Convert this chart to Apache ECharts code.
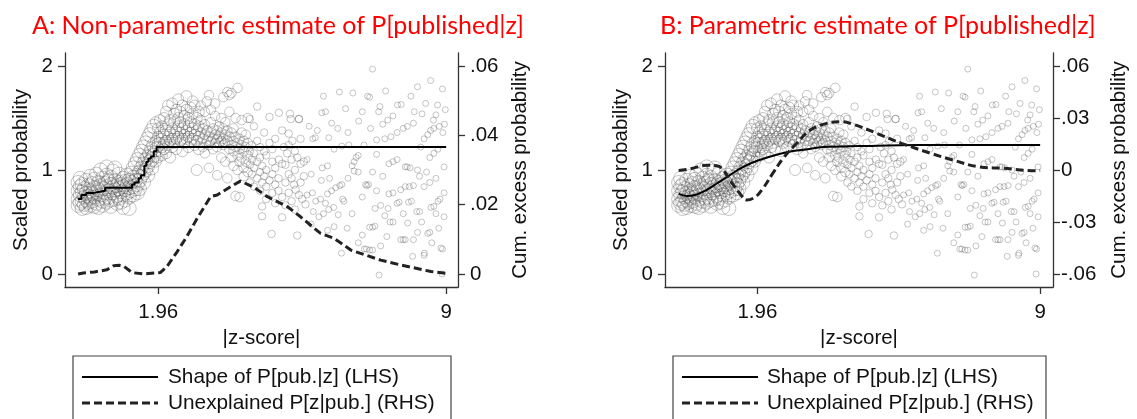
<!DOCTYPE html>
<html><head><meta charset="utf-8">
<script src="https://cdn.jsdelivr.net/npm/echarts@6/dist/echarts.min.js"></script>
<style>html,body{margin:0;padding:0;background:#fff}#c{width:1137px;height:419px}</style>
</head><body><div id="c"></div>
<script>
// ---- text / ticks ----
const titles = ['A: Non-parametric estimate of P[published|z]', 'B: Parametric estimate of P[published|z]'];
const seriesNames = ['Shape of P[pub.|z] (LHS)', 'Unexplained P[z|pub.] (RHS)'];
const xTickValues = [1.96, 9];
const xTickLabels = ['1.96', '9'];
const leftTicks = [0, 1, 2];
const leftTickLabels = ['0', '1', '2'];
const rightTicksA = [0, 0.02, 0.04, 0.06];
const rightTickLabelsA = ['0', '.02', '.04', '.06'];
const rightTicksB = [-0.06, -0.03, 0, 0.03, 0.06];
const rightTickLabelsB = ['-.06', '-.03', '0', '.03', '.06'];

// ---- panel A: step estimate (LHS) ----
const stepAz = [0.00, 0.08, 0.20, 0.38, 0.52, 0.66, 1.32, 1.38, 1.48, 1.54, 1.62, 1.67, 1.72, 1.78, 1.85, 1.92, 9.00];
const stepAy = [0.72, 0.76, 0.78, 0.79, 0.80, 0.83, 0.86, 0.88, 0.92, 0.95, 1.04, 1.08, 1.11, 1.13, 1.18, 1.22, 1.22];
// ---- panel A: cumulative excess (RHS) ----
const dashAz = [0.00, 0.13, 0.40, 0.70, 0.87, 1.00, 1.11, 1.32, 1.60, 2.01, 2.17, 2.42, 2.66, 2.91, 3.24, 3.40, 3.73, 3.97, 4.30, 4.63, 5.12, 5.44, 5.93, 6.26, 6.67, 7.40, 7.89, 8.63, 9.00];
const dashAr = [0.0000, 0.0003, 0.0006, 0.0012, 0.0024, 0.0025, 0.0023, 0.0004, 0.0000, 0.0004, 0.0021, 0.0064, 0.0108, 0.0160, 0.0223, 0.0228, 0.0252, 0.0268, 0.0250, 0.0223, 0.0194, 0.0165, 0.0117, 0.0103, 0.0069, 0.0040, 0.0026, 0.0007, 0.0002];
// ---- panel B: parametric estimate (LHS) ----
const smoothBz = [0.00, 0.20, 0.45, 0.70, 0.95, 1.19, 1.45, 1.77, 2.20, 2.69, 3.20, 3.60, 4.50, 6.00, 9.00];
const smoothBy = [0.77, 0.75, 0.765, 0.81, 0.87, 0.93, 0.995, 1.06, 1.12, 1.17, 1.20, 1.22, 1.23, 1.24, 1.24];
// ---- panel B: cumulative excess (RHS) ----
const dashBz = [0.00, 0.28, 0.70, 0.95, 1.11, 1.28, 1.52, 1.69, 1.90, 2.10, 2.35, 2.60, 2.94, 3.27, 3.68, 4.01, 4.34, 4.93, 5.55, 6.28, 6.82, 7.45, 8.08, 8.89, 9.00];
const dashBr = [-0.0003, 0.0006, 0.0027, 0.0024, 0.0000, -0.0060, -0.0134, -0.0173, -0.0157, -0.0106, -0.0017, 0.0067, 0.0154, 0.0229, 0.0269, 0.0279, 0.0264, 0.0212, 0.0154, 0.0096, 0.0058, 0.0019, 0.0010, -0.0004, -0.0003];

// ---- binned scaled probabilities (dense part): z and the y values read at that z ----
const cloudZ = [0.00,0.05,0.10,0.15,0.20,0.25,0.30,0.35,0.40,0.45,0.50,0.55,0.60,0.65,0.70,0.75,0.80,0.85,0.90,0.95,1.00,1.05,1.10,1.15,1.20,1.25,1.30,1.35,1.40,1.45,1.50,1.55,1.60,1.65,1.70,1.75,1.80,1.85,1.90,1.95,2.00,2.05,2.10,2.15,2.20,2.25,2.30,2.35,2.40,2.45,2.50,2.55,2.60,2.65,2.70,2.75,2.80,2.85,2.90,2.95,3.00,3.05,3.10,3.15,3.20,3.25,3.30,3.35,3.40,3.45,3.50,3.55,3.60,3.65,3.70,3.75,3.80,3.85,3.90,3.95,4.00,4.05,4.10,4.15];
const cloudY = [
 [0.72,0.80,0.66,0.88],[0.76,0.68,0.84,0.92],[0.70,0.79,0.63,0.86],[0.74,0.82,0.67],[0.78,0.71,0.90,0.64],
 [0.75,0.85,0.69],[0.80,0.73,0.94,0.66],[0.77,0.87,0.70],[0.83,0.74,0.65,0.91],[0.79,0.68,0.96],
 [0.81,0.72,0.88,0.64],[0.76,0.85,1.00],[0.82,0.70,0.92,0.66],[0.78,0.87,0.73],[0.84,0.69,0.95,1.03],
 [0.80,0.74,0.89],[0.86,0.71,0.93,0.65],[0.78,0.83,0.99],[0.81,0.72,0.90,1.02],[0.85,0.75,0.68],
 [0.82,0.88,0.73,0.96],[0.79,0.86,0.69],[0.84,0.76,0.92,0.64],[0.81,0.89,0.71],[0.86,0.78,0.95],
 [0.83,0.74,0.90,0.63],[0.88,0.80,0.97],[0.84,0.93,0.76,1.02],[0.90,0.82,1.06],[0.95,0.86,0.78,1.10],
 [0.98,0.90,1.14,0.82],[1.02,0.94,1.18],[1.06,0.97,1.22,0.88],[1.10,1.00,1.26],[1.12,1.04,1.30,0.95],
 [1.16,1.08,1.34],[1.20,1.10,1.38,1.02],[1.24,1.14,1.42],[1.28,1.18,1.46,1.08],[1.22,1.32,1.40,1.12],
 [1.26,1.36,1.18,1.48],[1.30,1.22,1.42,1.14],[1.34,1.26,1.50,1.20],[1.28,1.38,1.56,1.16],[1.32,1.44,1.24,1.62],
 [1.36,1.28,1.48,1.12],[1.40,1.30,1.64,1.22],[1.34,1.46,1.26,1.54],[1.38,1.30,1.58,1.20],[1.42,1.32,1.50,1.68],
 [1.36,1.28,1.46,1.56],[1.40,1.30,1.62,1.18],[1.34,1.44,1.52,1.26],[1.38,1.30,1.71,1.58],[1.42,1.32,1.50,1.22],
 [1.36,1.46,1.60,1.28],[1.40,1.30,1.54,1.66],[1.34,1.44,1.24,1.62],[1.38,1.28,1.50,1.00],[1.42,1.32,1.56,1.20],
 [1.36,1.26,1.48,1.62],[1.30,1.40,1.22],[1.34,1.44,1.56,1.16],[1.28,1.38,1.66],[1.32,1.24,1.72,1.02],
 [1.36,1.46,1.28,1.58],[1.30,1.40,1.20],[1.34,1.26,1.52,1.64],[1.38,1.30,1.22,0.95],[1.32,1.42,1.26],
 [1.36,1.28,1.50,1.12],[1.30,1.40,1.24,1.70],[1.34,1.26,1.46,1.08],[1.28,1.38,1.75,0.92],[1.32,1.20,1.56,1.72],
 [1.36,1.24,1.12,1.74],[1.28,1.40,1.18,1.04],[1.22,1.32,1.50,0.75],[1.26,1.14,1.79,1.00],[1.30,1.20,1.08,0.74],
 [1.24,1.36,1.12,1.48],[1.18,1.28,1.02,0.94],[1.22,1.08,1.34],[1.14,1.26,0.98,1.50]
];
// ---- sparse part (z > 4.2): [z, y] ----
const sparsePts = [
 [4.20,1.18],[4.20,1.05],[4.20,1.49],[4.20,0.88],[4.25,1.10],[4.25,1.24],[4.25,0.96],
 [4.30,1.02],[4.30,1.16],[4.30,0.84],[4.30,1.42],[4.38,1.61],[4.38,1.08],[4.38,0.92],[4.38,1.28],
 [4.45,0.98],[4.45,1.12],[4.45,0.80],[4.45,1.22],[4.50,0.65],[4.50,1.04],[4.50,0.88],[4.50,0.555],
 [4.55,0.94],[4.55,1.18],[4.55,1.36],[4.60,0.84],[4.60,1.00],[4.60,1.14],[4.60,0.72],
 [4.68,1.51],[4.68,1.26],[4.68,0.90],[4.73,0.385],[4.75,0.96],[4.75,1.08],[4.75,0.78],[4.75,1.20],
 [4.82,0.86],[4.82,1.02],[4.82,1.30],[4.82,0.68],[4.91,1.55],[4.91,1.10],[4.90,0.92],[4.90,0.80],
 [4.99,0.545],[4.99,1.06],[5.03,1.22],[4.99,0.74],[4.99,1.38],[5.07,1.05],[5.07,0.88],[5.11,1.16],[5.07,0.66],
 [5.15,1.35],[5.15,0.96],[5.15,0.78],[5.15,1.24],[5.18,1.54],[5.20,1.49],[5.22,0.92],[5.22,1.10],[5.22,0.70],[5.24,1.28],
 [5.28,0.86],[5.30,1.00],[5.30,1.18],[5.32,0.81],[5.30,0.62],[5.36,0.37],[5.40,1.49],[5.40,0.76],[5.36,1.12],
 [5.44,1.06],[5.44,0.88],[5.44,1.30],[5.48,0.72],[5.56,0.67],
 [6.00,1.71],[6.39,1.75],[6.72,1.74],[7.08,1.71],[7.13,1.70],[7.52,1.76],[8.30,1.80],[8.91,1.78],[7.20,1.97],[8.62,1.86],
 [5.96,1.55],[6.05,1.56],[6.54,1.59],[7.35,1.56],[7.38,1.61],[7.81,1.625],[7.90,1.63],[8.14,1.71],[8.22,1.56],[8.41,1.54],
 [8.79,1.625],[8.98,1.58],[8.75,1.53],[8.69,1.48],[8.83,1.42],[6.86,1.47],[7.57,1.48],[5.40,1.49],
 [5.74,1.30],[5.80,1.31],[6.13,1.31],[6.26,1.20],[6.45,1.23],[6.62,1.24],[6.99,1.24],[7.30,1.29],[7.50,1.30],[7.65,1.32],
 [7.80,1.36],[7.95,1.40],[8.05,1.42],[8.20,1.45],[8.46,1.30],[8.38,1.22],[8.55,1.34],[8.62,1.38],[8.70,1.40],[8.92,1.36],[8.96,1.44],
 [5.52,1.08],[5.60,1.10],[5.97,1.02],[6.10,1.04],[6.70,1.04],[6.75,1.08],[6.80,1.12],[6.85,1.14],[7.30,1.15],[7.60,1.06],
 [7.70,1.08],[7.80,1.10],[8.00,1.03],[8.05,1.03],[8.12,1.02],[8.30,1.00],[8.60,1.12],[8.70,1.16],[8.80,1.20],[8.95,1.03],
 [5.52,0.94],[5.70,0.96],[6.30,0.83],[6.40,0.85],[6.45,0.86],[6.75,0.99],[6.85,0.98],[7.03,0.86],[7.06,0.85],[7.10,0.86],
 [7.30,0.80],[7.60,0.77],[7.70,0.78],[7.89,0.81],[8.00,0.84],[8.10,0.84],[8.20,0.85],[8.46,0.84],[8.60,0.88],[8.75,0.92],
 [5.73,0.78],[5.60,0.76],[6.10,0.77],[6.20,0.80],[6.47,0.72],[6.50,0.70],[6.95,0.74],[7.26,0.63],[7.40,0.66],[7.58,0.63],
 [7.80,0.68],[7.85,0.69],[8.08,0.69],[8.15,0.70],[8.28,0.60],[8.35,0.60],[8.63,0.64],[8.70,0.65],[8.80,0.70],[8.85,0.72],[8.95,0.78],
 [5.81,0.70],[5.93,0.72],[6.05,0.68],[6.13,0.62],
 [5.89,0.55],[6.00,0.58],[6.26,0.455],[6.36,0.57],[6.58,0.44],[7.13,0.45],[7.20,0.45],[7.26,0.46],[7.63,0.50],[7.70,0.50],
 [8.06,0.49],[8.55,0.39],[8.60,0.40],[8.82,0.44],[8.95,0.55],
 [6.44,0.20],[6.95,0.375],[7.00,0.24],[7.05,0.24],[7.13,0.23],[7.20,0.23],[7.40,0.27],[7.89,0.33],[7.95,0.33],[8.00,0.33],
 [8.20,0.33],[8.18,0.17],[8.46,0.18],[8.47,0.20],[8.87,0.25],[8.91,0.24],[7.36,-0.01],[8.90,0.00],
 [5.65,1.42],[5.85,1.38],[6.20,1.45],[6.35,1.40],[6.60,1.36],[6.95,1.56],[7.15,1.40],[7.45,1.44],[7.70,1.52],[8.50,1.64],
 [5.95,0.90],[6.15,0.92],[6.60,0.92],[7.20,0.98],[7.45,0.94],[8.35,0.94],[8.52,0.98],
 [5.75,0.60],[6.25,0.64],[6.70,0.58],[7.50,0.56],[7.95,0.58],[8.40,0.50],[8.75,0.58],
 [5.70,0.48],[6.10,0.42],[6.85,0.30],[7.55,0.36],[8.30,0.40],[8.65,0.30]
];

// ---- build point lists ----
const scatterPts = [];
cloudZ.forEach((z, i) => cloudY[i].forEach(y => scatterPts.push([z, y])));
sparsePts.forEach(p => scatterPts.push(p));
const zip = (a, b) => a.map((v, i) => [v, b[i]]);

const AX = '#333';
const TXT = '#111';
const FONT = 'Liberation Sans, Arial, sans-serif';
const lab = (vals, labels) => v => { const k = vals.findIndex(t => Math.abs(t - v) < 1e-9); return k >= 0 ? labels[k] : ''; };

function xAx(grid, min, max) {
  return {
    type: 'value', gridIndex: grid, min: min, max: max,
    name: '|z-score|', nameLocation: 'middle', nameGap: 37,
    nameTextStyle: { fontSize: 20.5, color: TXT, fontFamily: FONT },
    axisLine: { show: true, onZero: false, lineStyle: { color: AX, width: 1.3 } },
    axisTick: { show: true, length: 7, customValues: xTickValues, lineStyle: { color: AX, width: 1.3 } },
    axisLabel: { customValues: xTickValues, formatter: lab(xTickValues, xTickLabels), fontSize: 20.5, color: TXT, fontFamily: FONT, margin: 15 },
    splitLine: { show: false }
  };
}
function yAx(grid, pos, min, max, ticks, labels, name, gap, margin) {
  return {
    type: 'value', gridIndex: grid, position: pos, min: min, max: max,
    name: name, nameLocation: 'middle', nameGap: gap, nameRotate: 90,
    nameTextStyle: { fontSize: 20.5, color: TXT, fontFamily: FONT },
    axisLine: { show: true, onZero: false, lineStyle: { color: AX, width: 1.3 } },
    axisTick: { show: true, length: 7, customValues: ticks, lineStyle: { color: AX, width: 1.3 } },
    axisLabel: { customValues: ticks, formatter: lab(ticks, labels), fontSize: 20.5, color: TXT, fontFamily: FONT, margin: margin },
    splitLine: { show: false }
  };
}
const scatterStyle = {
  type: 'scatter', symbol: 'circle', silent: true, z: 1,
  symbolSize: v => { const z = v[0]; return z < 1.9 ? 14 : z < 3.0 ? 11 : z < 4.2 ? 9.5 : z < 5.6 ? 7.5 : 6; },
  itemStyle: { color: 'rgba(0,0,0,0)', borderColor: 'rgba(70,70,70,0.38)', borderWidth: 1 },
  data: scatterPts
};

// ---- legend drawn as graphic (box, line samples, real text) ----
function legendGraphic(boxLeft, boxRight, sampleLeft, sampleRight, textLeft) {
  const rows = [377, 403];
  return [
    { type: 'rect', silent: true, shape: { x: boxLeft, y: 356, width: boxRight - boxLeft, height: 90 },
      style: { fill: 'none', stroke: '#444', lineWidth: 1.2 } },
    { type: 'line', silent: true, shape: { x1: sampleLeft, y1: rows[0], x2: sampleRight, y2: rows[0] },
      style: { stroke: '#000', lineWidth: 2 } },
    { type: 'line', silent: true, shape: { x1: sampleLeft, y1: rows[1], x2: sampleRight, y2: rows[1] },
      style: { stroke: '#222', lineWidth: 3, lineDash: [8, 4] } },
    { type: 'text', silent: true, style: { text: seriesNames[0], x: textLeft, y: rows[0], font: '20.8px Liberation Sans', fill: TXT, verticalAlign: 'middle', textVerticalAlign: 'middle' } },
    { type: 'text', silent: true, style: { text: seriesNames[1], x: textLeft, y: rows[1], font: '20.8px Liberation Sans', fill: TXT, verticalAlign: 'middle', textVerticalAlign: 'middle' } }
  ];
}

const option = {
  animation: false,
  backgroundColor: '#fff',
  title: [
    { text: titles[0], left: 27, top: 8, textStyle: { fontSize: 25, color: '#ff0000', fontFamily: 'Lato', fontWeight: 'normal' } },
    { text: titles[1], left: 655, top: 8, textStyle: { fontSize: 25, color: '#ff0000', fontFamily: 'Lato', fontWeight: 'normal' } }
  ],
  graphic: legendGraphic(73, 451, 82, 158, 168).concat(legendGraphic(673, 1046, 682, 758, 767)),
  grid: [
    { left: 65, right: 679, top: 53, bottom: 132 },
    { left: 665, right: 84, top: 53, bottom: 132 }
  ],
  xAxis: [xAx(0, -0.32, 9.29), xAx(1, -0.34, 9.32)],
  yAxis: [
    yAx(0, 'left', -0.125, 2.125, leftTicks, leftTickLabels, 'Scaled probability', 33, 12),
    yAx(0, 'right', -0.00375, 0.06375, rightTicksA, rightTickLabelsA, 'Cum. excess probability', 52, 12),
    yAx(1, 'left', -0.125, 2.125, leftTicks, leftTickLabels, 'Scaled probability', 33, 12),
    yAx(1, 'right', -0.0675, 0.0675, rightTicksB, rightTickLabelsB, 'Cum. excess probability', 56, 8)
  ],
  series: [
    Object.assign({}, scatterStyle, { name: 'pointsA', xAxisIndex: 0, yAxisIndex: 0 }),
    { name: seriesNames[0], type: 'line', xAxisIndex: 0, yAxisIndex: 0, step: 'end', symbol: 'none', z: 3,
      lineStyle: { color: '#000', width: 2 }, itemStyle: { color: '#000' }, data: zip(stepAz, stepAy) },
    { name: seriesNames[1], type: 'line', xAxisIndex: 0, yAxisIndex: 1, symbol: 'none', z: 3,
      lineStyle: { color: '#222', width: 3, type: [8, 4] }, itemStyle: { color: '#222' }, data: zip(dashAz, dashAr) },
    Object.assign({}, scatterStyle, { name: 'pointsB', xAxisIndex: 1, yAxisIndex: 2 }),
    { name: seriesNames[0], type: 'line', xAxisIndex: 1, yAxisIndex: 2, smooth: 0.4, symbol: 'none', z: 3,
      lineStyle: { color: '#000', width: 2 }, itemStyle: { color: '#000' }, data: zip(smoothBz, smoothBy) },
    { name: seriesNames[1], type: 'line', xAxisIndex: 1, yAxisIndex: 3, smooth: 0.4, symbol: 'none', z: 3,
      lineStyle: { color: '#222', width: 3, type: [8, 4] }, itemStyle: { color: '#222' }, data: zip(dashBz, dashBr) }
  ]
};
const chart = echarts.init(document.getElementById('c'), null, { renderer: 'canvas' });
chart.setOption(option);
</script></body></html>
